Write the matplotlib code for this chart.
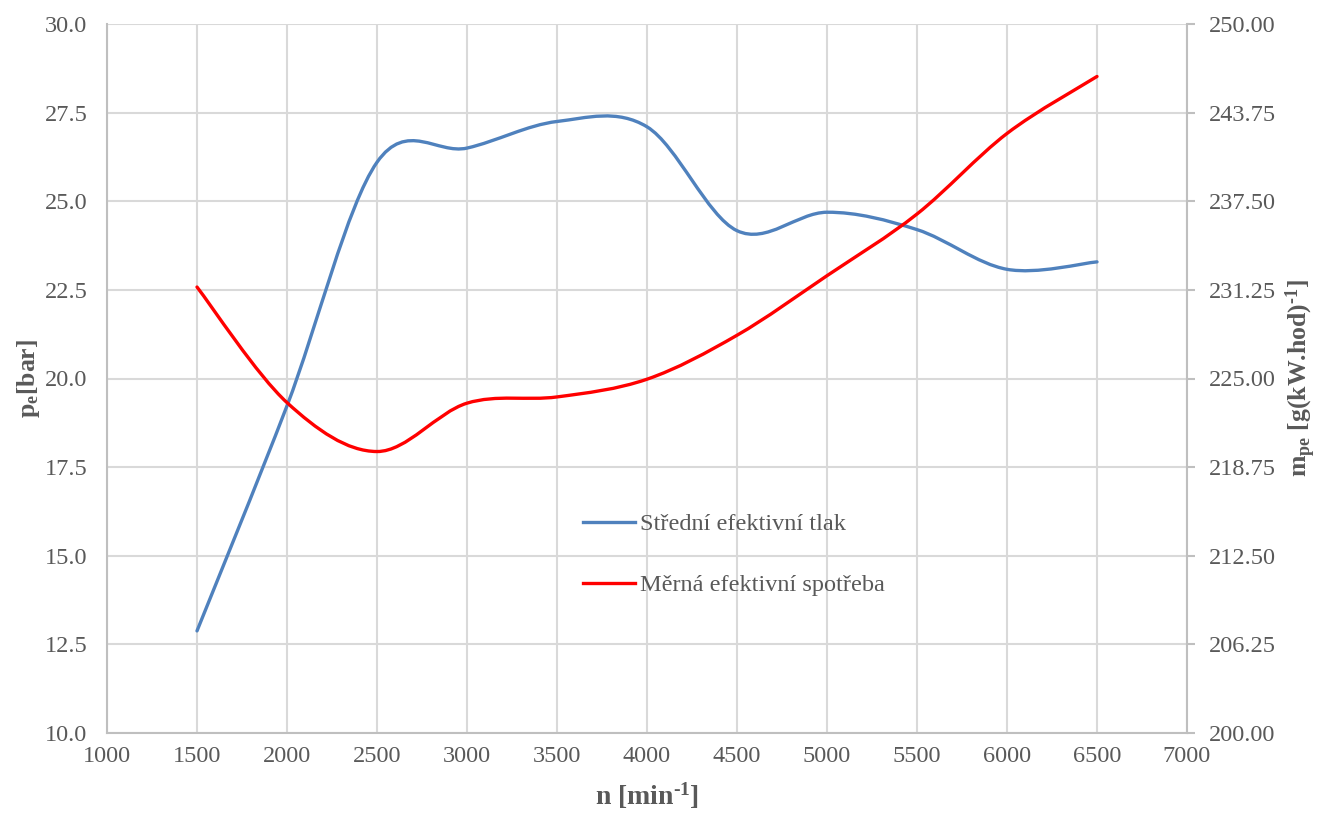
import numpy as np
import matplotlib
matplotlib.use("Agg")
import matplotlib.pyplot as plt
from matplotlib.path import Path
from matplotlib.patches import PathPatch
from matplotlib.lines import Line2D

plt.rcParams['font.family'] = ['Liberation Serif', 'DejaVu Serif']
plt.rcParams['mathtext.fontset'] = 'custom'
plt.rcParams['mathtext.rm'] = 'Liberation Serif:bold'
plt.rcParams['mathtext.it'] = 'Liberation Serif:bold:italic'
plt.rcParams['mathtext.bf'] = 'Liberation Serif:bold'

# engine speed [min^-1]
speed = [1500, 2000, 2500, 3000, 3500, 4000, 4500, 5000, 5500, 6000, 6500]
# mean effective pressure [bar]
pressure = [12.88, 19.23, 26.1, 26.5, 27.25, 27.1, 24.17, 24.69, 24.2, 23.08, 23.29]
# specific effective fuel consumption [g/(kW.h)]
consumption = [231.45, 223.3, 219.85, 223.26, 223.7, 224.95, 228.05, 232.25, 236.6, 242.28, 246.3]

label_p = "Střední efektivní tlak"
label_m = "Měrná efektivní spotřeba"

left_ticks = np.arange(10.0, 30.01, 2.5)
right_ticks = np.arange(200.0, 250.01, 6.25)
x_ticks = np.arange(1000, 7001, 500)

BLUE = "#4f81bd"
RED = "#ff0000"
GRID = "#d9d9d9"
AXIS = "#bfbfbf"
TEXT = "#595959"
FS = 17.5


def smooth_path(xs, ys, tension=1.0 / 6.0):
    """Cubic Bezier path through the points, in the style of a smoothed line."""
    pts = np.column_stack([xs, ys]).astype(float)
    n = len(pts)
    verts = [pts[0]]
    codes = [Path.MOVETO]
    for i in range(n - 1):
        p0 = pts[i - 1] if i > 0 else pts[i]
        p1 = pts[i]
        p2 = pts[i + 1]
        p3 = pts[i + 2] if i + 2 < n else pts[i + 1]
        c1 = p1 + (p2 - p0) * tension
        c2 = p2 - (p3 - p1) * tension
        verts += [c1, c2, p2]
        codes += [Path.CURVE4] * 3
    return Path(verts, codes)


fig = plt.figure(figsize=(13.17, 8.14), dpi=100)
ax = fig.add_axes([107 / 1317, 1 - 733 / 814, (1187 - 107) / 1317, (733 - 24) / 814])
ax2 = ax.twinx()

ax.set_xlim(1000, 7000)
ax.set_ylim(10, 30)
ax2.set_ylim(200, 250)

ax.set_xticks(x_ticks)
ax.set_yticks(left_ticks)
ax2.set_yticks(right_ticks)
ax.set_yticklabels([f"{v:.1f}" for v in left_ticks])
ax2.set_yticklabels([f"{v:.2f}" for v in right_ticks])

ax.grid(True, color=GRID, linewidth=1.5)
ax.set_axisbelow(True)

for a in (ax, ax2):
    for s in a.spines.values():
        s.set_visible(False)
for a, side in ((ax, 'left'), (ax, 'bottom'), (ax2, 'right')):
    a.spines[side].set_visible(True)
    a.spines[side].set_color(AXIS)
    a.spines[side].set_linewidth(1.5)

ax.tick_params(axis='y', length=0, labelsize=FS, colors=TEXT, pad=14)
ax.tick_params(axis='x', length=0, labelsize=FS, colors=TEXT, pad=9)
ax2.tick_params(axis='y', length=6, width=1.5, color=AXIS,
                labelsize=FS, labelcolor=TEXT, pad=10)

ax.add_patch(PathPatch(smooth_path(speed, pressure), facecolor='none',
                       edgecolor=BLUE, linewidth=2.4, capstyle='round',
                       zorder=3))
ax2.add_patch(PathPatch(smooth_path(speed, consumption), facecolor='none',
                        edgecolor=RED, linewidth=2.4, capstyle='round',
                        zorder=3))

ax.set_xlabel(r"n [min$^{\text{-1}}$]", fontsize=20, fontweight='bold',
              color=TEXT, labelpad=10)
ax.set_ylabel(r"p$_{\text{e}}$[bar]", fontsize=18.5, fontweight='bold',
              color=TEXT, labelpad=2)
ax2.set_ylabel(r"m$_{\text{pe}}$ [g(kW.hod)$^{\text{-1}}$]", fontsize=18.5,
               fontweight='bold', color=TEXT, labelpad=5, rotation=90)

handles = [Line2D([], [], color=BLUE, linewidth=2.4),
           Line2D([], [], color=RED, linewidth=2.4)]
leg = ax.legend(handles, [label_p, label_m], loc='upper left',
                bbox_to_anchor=(583 / 1317, 1 - 513 / 814),
                bbox_transform=fig.transFigure, frameon=False,
                fontsize=FS, handlelength=2.14, handletextpad=0.2,
                labelspacing=1.62, borderpad=0, borderaxespad=0,
                labelcolor=TEXT)

fig.savefig("out.png", dpi=100)
